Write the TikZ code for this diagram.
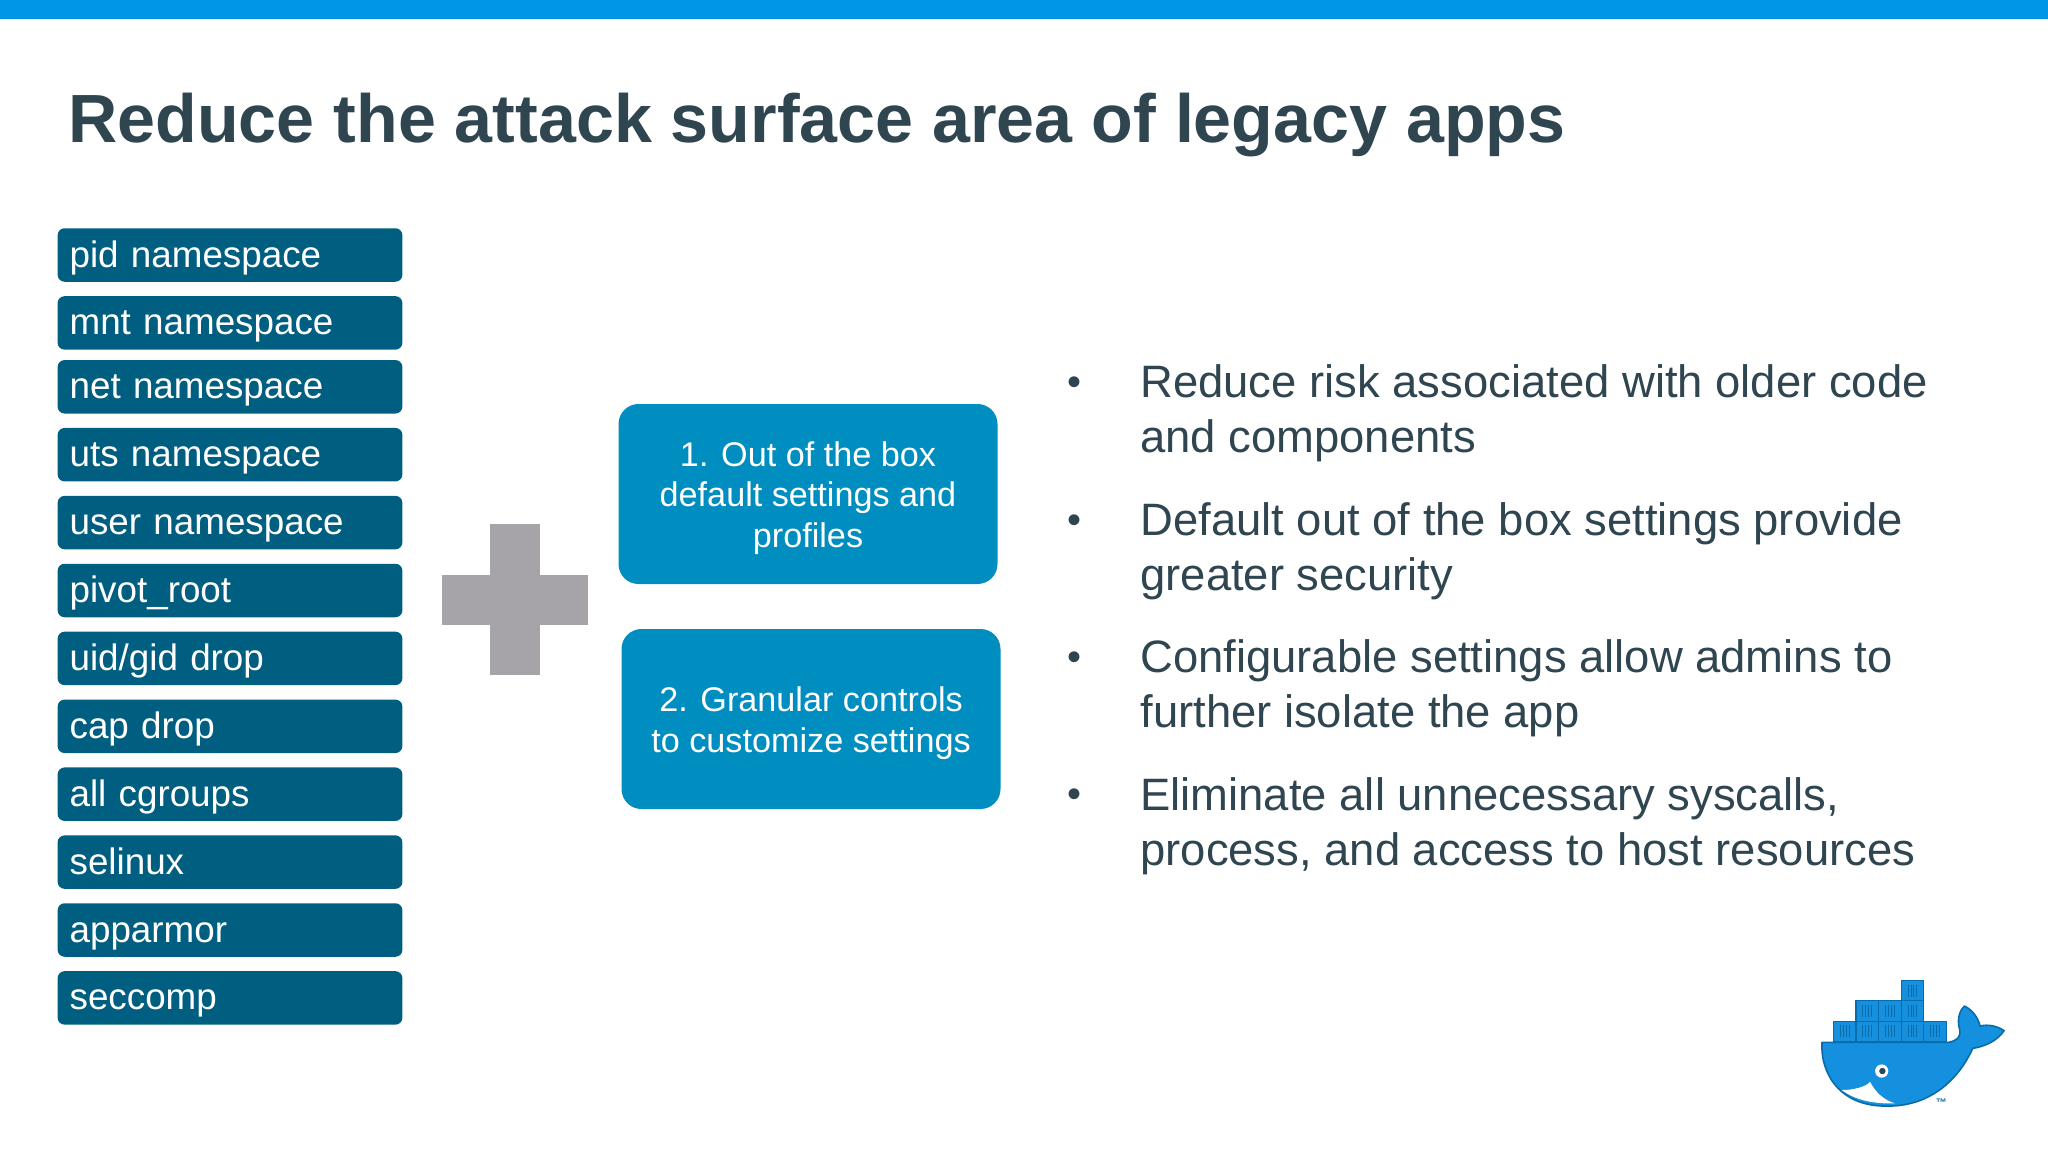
\documentclass[tikz,border=0pt]{standalone}
\usepackage{fontspec}
\setmainfont{Liberation Sans}
\definecolor{mybar}{RGB}{0,150,232}
\definecolor{myink}{RGB}{47,69,80}
\definecolor{mydark}{RGB}{0,95,128}
\definecolor{mymid}{RGB}{0,141,192}
\definecolor{mygrey}{RGB}{166,164,168}
\definecolor{mywhale}{RGB}{20,144,222}
\definecolor{myrim}{RGB}{8,108,170}
\usetikzlibrary{positioning}

\begin{document}
\begin{tikzpicture}[
  x=0.5pt, y=-0.5pt,
  nsbox/.style={rectangle, fill=mydark, rounded corners=3.5pt, text=white, outer sep=0pt,
                minimum width=172.4pt, minimum height=26.75pt, text width=160.4pt,
                text height=14.5pt, text depth=2.5pt,
                inner xsep=6pt, inner ysep=0pt, align=left,
                font=\fontsize{18.4}{22}\selectfont},
  optbox/.style={rectangle, fill=mymid, rounded corners=10pt, outer sep=0pt,
                 minimum width=189.5pt, minimum height=90pt},
  opttext/.style={text=white, inner sep=0pt, align=center, yshift=-2pt,
                  font=\fontsize{17.1}{20.3}\selectfont},
  para/.style={anchor=west, text=myink, align=left, inner sep=0pt,
               font=\fontsize{22.7}{27.4}\selectfont},
  dotmark/.style={text=myink, inner sep=0pt, font=\fontsize{20}{24}\selectfont},
  crate/.style={rectangle, draw=myrim, fill=mywhale, line width=0.6pt, inner sep=0pt, outer sep=0pt,
                minimum width=11.3pt, minimum height=10.2pt,
                path picture={\draw[myrim, line width=0.45pt, shift={(path picture bounding box.center)}]
                  (-2.2pt,-3pt)--(-2.2pt,3pt) (-0.7pt,-3pt)--(-0.7pt,3pt)
                  (0.7pt,-3pt)--(0.7pt,3pt) (2.2pt,-3pt)--(2.2pt,3pt);}}
]
  \useasboundingbox (0,0) rectangle (2048,1152);
  % Top bar and title
  \fill[mybar] (0,0) rectangle (2048,19);
  \node[anchor=west, inner sep=0pt, text=myink, font=\fontsize{34.1}{40}\selectfont\bfseries]
       (title) at (68,125) {Reduce the attack surface area of legacy apps};
  % Left column of kernel features
  \node[nsbox] (pid) at (230,255) {pid namespace};
  \node[nsbox, below=7.2pt of pid] (mnt) {mnt namespace};
  \node[nsbox, below=5.2pt of mnt] (net) {net namespace};
  \node[nsbox, below=7.2pt of net] (uts) {uts namespace};
  \node[nsbox, below=7.2pt of uts] (user) {user namespace};
  \node[nsbox, below=7.2pt of user] (pivot) {pivot\_root};
  \node[nsbox, below=7.2pt of pivot] (uid) {uid/gid drop};
  \node[nsbox, below=7.2pt of uid] (cap) {cap drop};
  \node[nsbox, below=7.2pt of cap] (cgroups) {all cgroups};
  \node[nsbox, below=7.2pt of cgroups] (selinux) {selinux};
  \node[nsbox, below=7.2pt of selinux] (apparmor) {apparmor};
  \node[nsbox, below=7.2pt of apparmor] (seccomp) {seccomp};
  % Plus sign
  \fill[mygrey] (490,524) rectangle (540,675);
  \fill[mygrey] (442,575) rectangle (588,625);
  % Middle boxes
  \node[optbox] (box1) at (808,494) {};
  \node[optbox] (box2) at (811,719) {};
  \node[opttext] (text1) at (box1) {1. Out of the box\\default settings and\\profiles};
  \node[opttext] (text2) at (box2) {2. Granular controls\\to customize settings};
  % Bullet list
  \node[para] (b1) at (1140,413) {Reduce risk associated with older code\\and components};
  \node[para] (b2) at (1140,551) {Default out of the box settings provide\\greater security};
  \node[para] (b3) at (1140,688) {Configurable settings allow admins to\\further isolate the app};
  \node[para] (b4) at (1140,826) {Eliminate all unnecessary syscalls,\\process, and access to host resources};
  \node[dotmark] (d1) at (1074,386) {•};
  \node[dotmark] (d2) at (1074,524) {•};
  \node[dotmark] (d3) at (1074,661) {•};
  \node[dotmark] (d4) at (1074,798) {•};
  % Whale logo
  \begin{scope}[shift={(1780,950)}, x=0.1667pt, y=-0.1667pt]
    \node[crate] (c1) at (194,244) {};
    \node[crate, right=0pt of c1] (c2) {};
    \node[crate, right=0pt of c2] (c3) {};
    \node[crate, right=0pt of c3] (c4) {};
    \node[crate, right=0pt of c4] (c5) {};
    \node[crate, above=0pt of c2] (c6) {};
    \node[crate, above=0pt of c3] (c7) {};
    \node[crate, above=0pt of c4] (c8) {};
    \node[crate, above=0pt of c8] (c9) {};
    \draw[myrim, fill=mywhale, line width=0.8pt, line join=round]
      (126,277) -- (505,277) .. controls (530,272) and (545,262) .. (538,235)
      .. controls (530,205) and (540,180) .. (553,168)
      .. controls (578,180) and (595,205) .. (600,228)
      .. controls (625,222) and (652,228) .. (672,242)
      .. controls (650,275) and (610,290) .. (578,295)
      .. controls (530,400) and (440,470) .. (320,468)
      .. controls (180,470) and (120,370) .. (126,277) -- cycle;
    \fill[white] (185,420) .. controls (220,420) and (260,410) .. (270,395)
      .. controls (285,425) and (310,450) .. (345,460)
      .. controls (280,462) and (225,450) .. (185,420) -- cycle;
    \fill[white] (305,363) circle (3.3pt);
    \fill[myink] (307,363) circle (1.6pt);
    \node[inner sep=0pt, text=myrim, font=\fontsize{5.5}{6}\selectfont\bfseries] (tm) at (484,458) {™};
  \end{scope}
\end{tikzpicture}
\end{document}
